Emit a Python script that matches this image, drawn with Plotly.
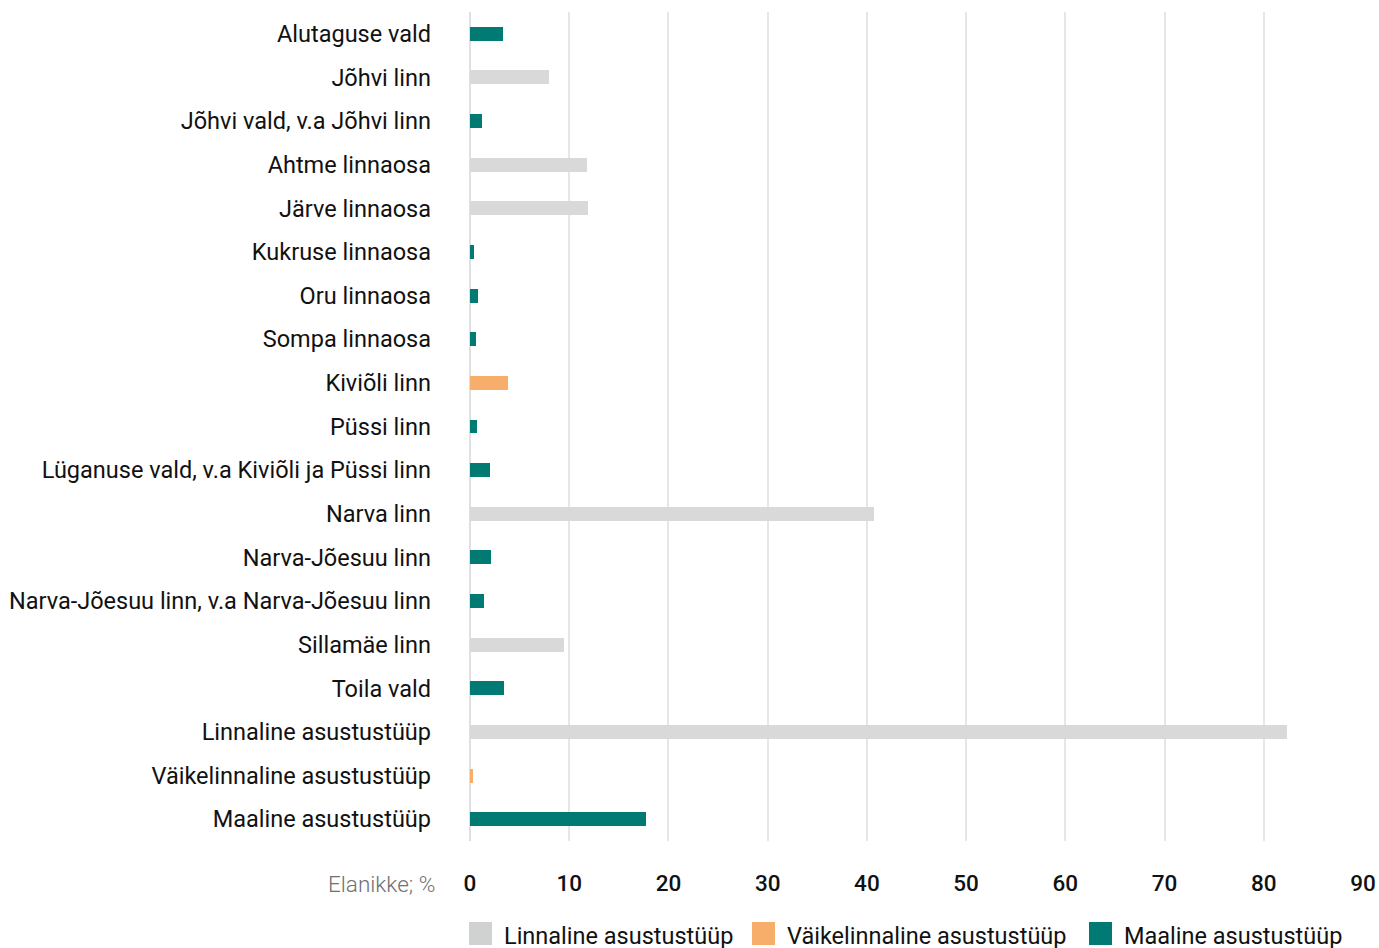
import plotly.graph_objects as go

categories = [
    "Alutaguse vald", "Jõhvi linn", "Jõhvi vald, v.a Jõhvi linn", "Ahtme linnaosa",
    "Järve linnaosa", "Kukruse linnaosa", "Oru linnaosa", "Sompa linnaosa",
    "Kiviõli linn", "Püssi linn", "Lüganuse vald, v.a Kiviõli ja Püssi linn",
    "Narva linn", "Narva-Jõesuu linn", "Narva-Jõesuu linn, v.a Narva-Jõesuu linn",
    "Sillamäe linn", "Toila vald", "Linnaline asustustüüp",
    "Väikelinnaline asustustüüp", "Maaline asustustüüp",
]
linnaline = [None, 8.0, None, 11.8, 11.9, None, None, None, None, None, None,
             40.7, None, None, 9.5, None, 82.3, None, None]
vaikelinnaline = [None, None, None, None, None, None, None, None, 3.8, None, None,
                  None, None, None, None, None, None, 0.35, None]
maaline = [3.3, None, 1.2, None, None, 0.45, 0.85, 0.65, None, 0.75, 2.0,
           None, 2.1, 1.4, None, 3.4, None, None, 17.7]
series_names = ["Linnaline asustustüüp", "Väikelinnaline asustustüüp", "Maaline asustustüüp"]
tick_vals = [0, 10, 20, 30, 40, 50, 60, 70, 80, 90]

colors = ["#d9d9d9", "#f7ae6b", "#007a73"]
legend_colors = ["#d0d2d2", "#f7ae6b", "#007a73"]

W, H = 1379, 948
ML, MR, MT, MB = 470, 16, 12, 107
PW, PH = W - ML - MR, H - MT - MB

def px_x(px):
    return (px - ML) / PW

def px_y(py):
    return (H - MB - py) / PH

fig = go.Figure()
for name, vals, col in zip(series_names, [linnaline, vaikelinnaline, maaline], colors):
    fig.add_trace(go.Bar(y=categories, x=vals, name=name, orientation="h",
                         marker=dict(color=col, line=dict(width=0)), width=0.32,
                         showlegend=False))

fig.update_layout(
    width=W, height=H,
    barmode="stack",
    plot_bgcolor="white", paper_bgcolor="white",
    margin=dict(l=ML, r=MR, t=MT, b=MB),
    font=dict(family="Roboto", size=23.5, color="#111111"),
    xaxis=dict(range=[0, 90], tickvals=tick_vals, showgrid=True, gridcolor="#e6e6e6",
               gridwidth=2, zeroline=True, zerolinecolor="#e0e0e0", zerolinewidth=2,
               showline=False, ticks="", ticklabelstandoff=26, automargin=False,
               tickfont=dict(size=22.5, color="#111111", weight=500)),
    yaxis=dict(categoryorder="array", categoryarray=categories, autorange="reversed",
               showgrid=False, ticks="", ticklabelstandoff=38, showline=False,
               automargin=False, tickfont=dict(size=23.5, color="#111111")),
    showlegend=False,
)
fig.add_annotation(text="Elanikke; %", xref="paper", yref="paper", x=0, y=px_y(884),
                   xanchor="right", yanchor="middle", xshift=-33, showarrow=False,
                   font=dict(size=22.5, color="#707070", family="Roboto", weight=300))

# manual legend
legend_x = [469, 752, 1089]
for name, col, lx in zip(series_names, legend_colors, legend_x):
    fig.add_shape(type="rect", xref="paper", yref="paper",
                  x0=px_x(lx), x1=px_x(lx + 23), y0=px_y(945), y1=px_y(922),
                  fillcolor=col, line=dict(width=0))
    fig.add_annotation(text=name, xref="paper", yref="paper", x=px_x(lx + 33),
                       y=px_y(936), xanchor="left", yanchor="middle", showarrow=False,
                       font=dict(size=23.5, color="#111111", family="Roboto"))

fig.write_html("out.html", config={"displayModeBar": False},
               post_script="document.body.style.margin='0';"
                           "document.body.style.overflow='hidden';")
